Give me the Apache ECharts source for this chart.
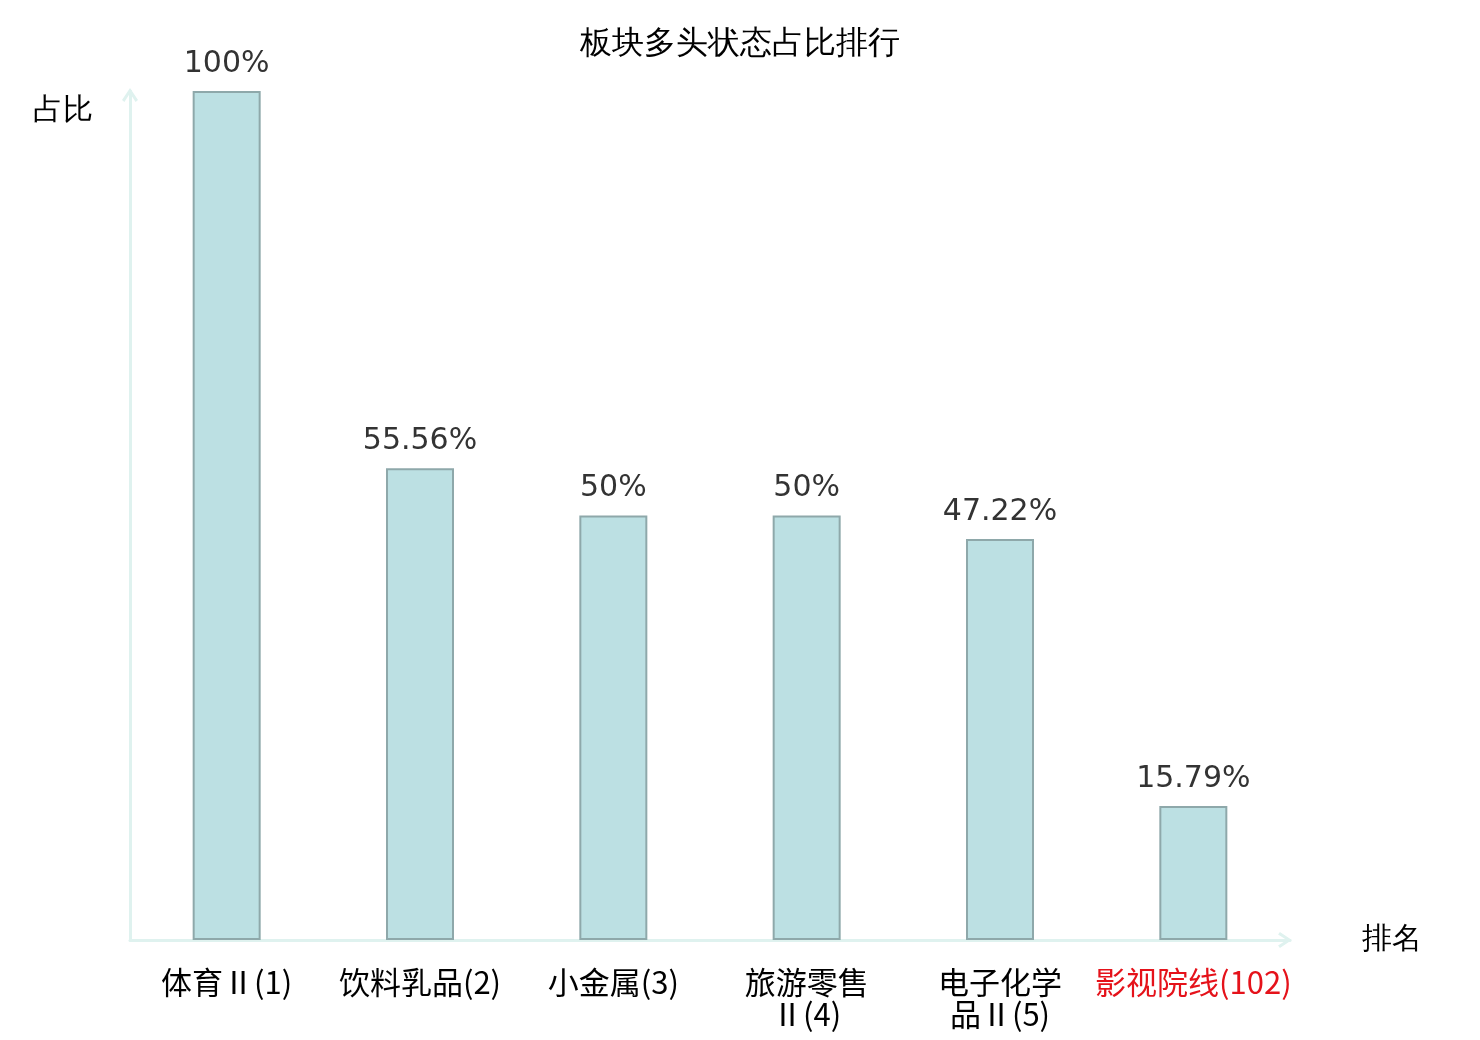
<!DOCTYPE html>
<html>
<head>
<meta charset="utf-8">
<title>板块多头状态占比排行</title>
<script src="https://cdn.jsdelivr.net/npm/echarts@6/dist/echarts.min.js"></script>
<style>
    html, body { margin: 0; padding: 0; background: #fff; }
    #main { width: 1480px; height: 1040px; }
</style>
</head>
<body>
<div id="main"></div>
<script>
// 板块名称 / 排名 / 多头占比(%)
var sectors = ['体育Ⅱ', '饮料乳品', '小金属', '旅游零售Ⅱ', '电子化学品Ⅱ', '影视院线'];
var ranks = [1, 2, 3, 4, 5, 102];
var ratios = [100, 55.56, 50, 50, 47.22, 15.79];

var categories = sectors.map(function (name, i) {
    return name + '(' + ranks[i] + ')';
});

// 空心箭头（朝上，轴上会自动旋转）
var arrowPath = 'path://M8,0 L16,12 L13.6,13.8 L8,5.2 L2.4,13.8 L0,12 Z';
var axisColor = '#dff2ef';

window.SectorChart = function () {
    var chartDom = document.getElementById('main');
    window.myChart = echarts.init(chartDom);
    var option;

    option = {
        animation: false,
        title: {
            text: '板块多头状态占比排行',
            left: 'center',
            top: 23,
            textStyle: {
                fontSize: 32,
                fontWeight: 'normal',
                color: '#000'
            }
        },
        grid: {
            left: 130,
            right: 190,
            top: 91,
            bottom: 100
        },
        xAxis: {
            type: 'category',
            data: categories,
            name: '排名',
            nameGap: 72,
            nameTextStyle: {
                fontSize: 30,
                color: '#000',
                padding: [14, 0, 0, 0]
            },
            axisLine: {
                symbol: ['none', arrowPath],
                symbolSize: [16, 14],
                symbolOffset: [0, -5],
                lineStyle: { color: axisColor, width: 3 }
            },
            axisTick: { show: false },
            axisLabel: {
                interval: 0,
                margin: 26,
                fontSize: 31,
                lineHeight: 32,
                fontFamily: 'Noto Sans CJK SC',
                // 名称超过4个字时换行
                formatter: function (value, index) {
                    var name = sectors[index];
                    if (name.length > 4) {
                        return name.slice(0, 4) + '\n' + name.slice(4) + '(' + ranks[index] + ')';
                    }
                    return value;
                },
                color: function (value, index) {
                    return index === sectors.length - 1 ? '#e5121a' : '#000';
                }
            }
        },
        yAxis: {
            type: 'value',
            min: 0,
            max: 100,
            name: '占比',
            nameGap: -20,
            nameTextStyle: {
                fontSize: 30,
                color: '#000',
                align: 'right',
                verticalAlign: 'middle',
                padding: [0, 37, 0, 0]
            },
            axisLine: {
                show: true,
                symbol: ['none', arrowPath],
                symbolSize: [16, 14],
                symbolOffset: [0, -4],
                lineStyle: { color: axisColor, width: 3 }
            },
            axisTick: { show: false },
            axisLabel: { show: false },
            splitLine: { show: false }
        },
        series: [
            {
                name: '多头占比',
                type: 'bar',
                barWidth: 68,
                data: ratios,
                itemStyle: {
                    color: '#bce0e3',
                    borderColor: '#8ea8aa',
                    borderWidth: 2
                },
                label: {
                    show: true,
                    position: 'top',
                    distance: 12,
                    fontSize: 30,
                    fontFamily: 'DejaVu Sans',
                    color: '#333',
                    formatter: function (p) {
                        return p.value + '%';
                    }
                }
            }
        ]
    };

    option && myChart.setOption(option);
}

window.SectorChart();
</script>
</body>
</html>
